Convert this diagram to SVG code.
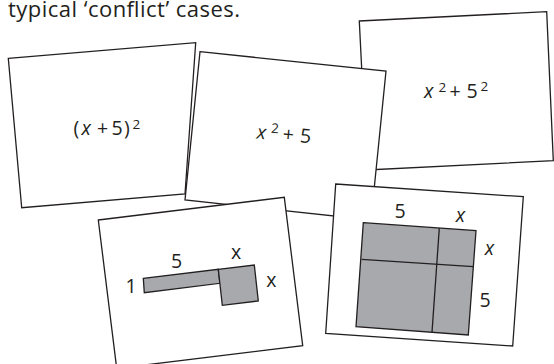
<svg xmlns="http://www.w3.org/2000/svg" width="554" height="364" viewBox="0 0 554 364">
<style>
.card{fill:#fff;stroke:#231f20;stroke-width:1.3;stroke-linejoin:miter}
.tile{fill:#a7a9ac;stroke:#231f20;stroke-width:1.3}
.ln{fill:none;stroke:#231f20;stroke-width:1.3}
text{font-family:"Open Sans","Noto Sans","DejaVu Sans",sans-serif;fill:#231f20}
.t{font-size:19.5px}
.sup{font-size:13.5px}
.it{font-style:italic}
.lbl{font-size:19.5px;text-anchor:middle}
</style>
<rect width="554" height="364" fill="#fff"/>
<text id="caption" x="8" y="17" font-size="22" textLength="232" lengthAdjust="spacing">typical ‘conflict’ cases.</text>

<g id="card-3">
<polygon class="card" points="359.3,21 546.7,11.7 553.3,160.7 366.8,170"/>
<text class="t" y="98.3"><tspan class="it" x="424">x</tspan><tspan class="sup" x="438.5" y="91.5">2</tspan><tspan x="449.5" y="98.3">+</tspan><tspan x="466.5" y="98.3">5</tspan><tspan class="sup" x="480.5" y="90.7">2</tspan></text>
</g>

<g id="card-1">
<polygon class="card" points="8.3,58.3 195.7,42.7 185,194 21.7,207.7"/>
<text class="t" y="135"><tspan x="73.5">(</tspan><tspan class="it" x="81.5">x</tspan><tspan x="97">+</tspan><tspan x="111.5">5</tspan><tspan x="124">)</tspan><tspan class="sup" x="132.5" y="128.5">2</tspan></text>
</g>

<g id="card-2">
<polygon class="card" points="200,51.7 386,71 371,220 185,200"/>
<text class="t" y="141" transform="rotate(5 285 137)"><tspan class="it" x="256.5">x</tspan><tspan class="sup" x="270.5" y="134">2</tspan><tspan x="282.5" y="141">+</tspan><tspan x="300" y="141">5</tspan></text>
</g>

<g id="card-4">
<polygon class="card" points="98.3,220 284.3,197.3 302.7,345.7 116.7,368.4"/>
<polygon class="tile" points="143.3,278.3 218.3,269.3 220,283.3 144.3,292.7"/>
<polygon class="tile" points="218.3,269.3 254.3,265 258.3,301 222.3,305.3"/>
<text class="lbl" x="131.2" y="293.3">1</text>
<text class="lbl" x="176.7" y="268.3">5</text>
<text class="lbl" x="236.2" y="259.3">x</text>
<text class="lbl" x="271.3" y="286.7">x</text>
</g>

<g id="card-5">
<polygon class="card" points="335.7,184 523.3,196.7 512.7,346 325.7,333.3"/>
<polygon class="tile" points="363.3,222.7 476,230.7 468.3,335 356,326.7"/>
<line class="ln" x1="439.3" y1="228.1" x2="432" y2="332.4"/>
<line class="ln" x1="361.7" y1="259.3" x2="473.3" y2="266.7"/>
<text class="lbl" x="400" y="218.3">5</text>
<text class="lbl it" x="460.5" y="221.7">x</text>
<text class="lbl it" x="489.5" y="255">x</text>
<text class="lbl" x="485" y="306.5">5</text>
</g>
</svg>
